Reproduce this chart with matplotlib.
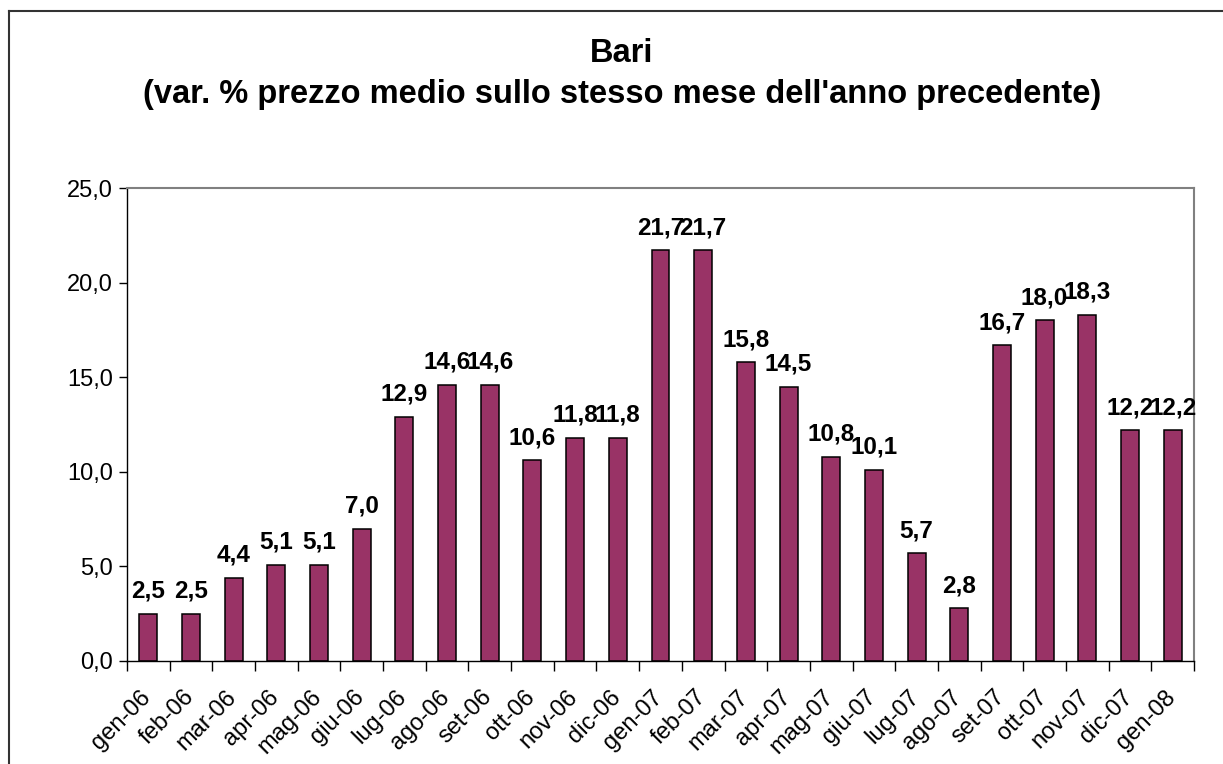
import matplotlib
matplotlib.use('Agg')
import matplotlib.pyplot as plt
from matplotlib.lines import Line2D
import numpy as np

months = ['gen-06', 'feb-06', 'mar-06', 'apr-06', 'mag-06', 'giu-06', 'lug-06',
          'ago-06', 'set-06', 'ott-06', 'nov-06', 'dic-06', 'gen-07', 'feb-07',
          'mar-07', 'apr-07', 'mag-07', 'giu-07', 'lug-07', 'ago-07', 'set-07',
          'ott-07', 'nov-07', 'dic-07', 'gen-08']
values = [2.5, 2.5, 4.4, 5.1, 5.1, 7.0, 12.9, 14.6, 14.6, 10.6, 11.8, 11.8,
          21.7, 21.7, 15.8, 14.5, 10.8, 10.1, 5.7, 2.8, 16.7, 18.0, 18.3,
          12.2, 12.2]
yticks = [0, 5, 10, 15, 20, 25]

plt.rcParams['font.family'] = ['Liberation Sans', 'DejaVu Sans']

W, H = 1223, 764
fig = plt.figure(figsize=(W / 100, H / 100), dpi=100)
ax = fig.add_axes([127 / W, 1 - 661 / H, (1194 - 127) / W, (661 - 188) / H])

x = np.arange(len(values))
ax.bar(x, values, width=0.42, color='#993366', edgecolor='black', linewidth=1.1)

for xi, v in zip(x, values):
    ax.annotate(f'{v:.1f}'.replace('.', ','), (xi, v), xytext=(0, 11.5),
                textcoords='offset points', ha='center', va='baseline',
                fontsize=17.5, fontweight='bold')

ax.set_xlim(-0.5, len(values) - 0.5)
ax.set_ylim(0, 25)
ax.set_yticks(yticks)
ax.set_yticklabels([f'{t:.1f}'.replace('.', ',') for t in yticks], fontsize=17)
ax.tick_params(axis='y', direction='out', length=6, width=1, pad=4)

ax.set_xticks(x - 0.2)
ax.set_xticklabels(months, rotation=45, ha='right', va='top',
                   rotation_mode='anchor', fontsize=17)
ax.tick_params(axis='x', length=0, pad=18)
ax.set_xticks(np.arange(len(values) + 1) - 0.5, minor=True)
ax.tick_params(axis='x', which='minor', direction='out', length=7, width=1)

for s in ['top', 'right']:
    ax.spines[s].set_color('#808080')
    ax.spines[s].set_linewidth(1.5)
for s in ['left', 'bottom']:
    ax.spines[s].set_color('black')
    ax.spines[s].set_linewidth(1)

fig.text(622 / W, 1 - 62 / H, 'Bari', ha='center', va='baseline',
         fontsize=23.5, fontweight='bold')
fig.text(622 / W, 1 - 103 / H,
         "(var. % prezzo medio sullo stesso mese dell'anno precedente)",
         ha='center', va='baseline', fontsize=23.5, fontweight='bold')

# outer chart frame (only left and top visible)
fig.add_artist(Line2D([8.5 / W, 8.5 / W], [0, 1 - 11 / H], transform=fig.transFigure,
                      color='#333333', linewidth=1.5))
fig.add_artist(Line2D([8.5 / W, 1], [1 - 11 / H, 1 - 11 / H], transform=fig.transFigure,
                      color='#333333', linewidth=1.5))

fig.savefig('out.png', dpi=100)
